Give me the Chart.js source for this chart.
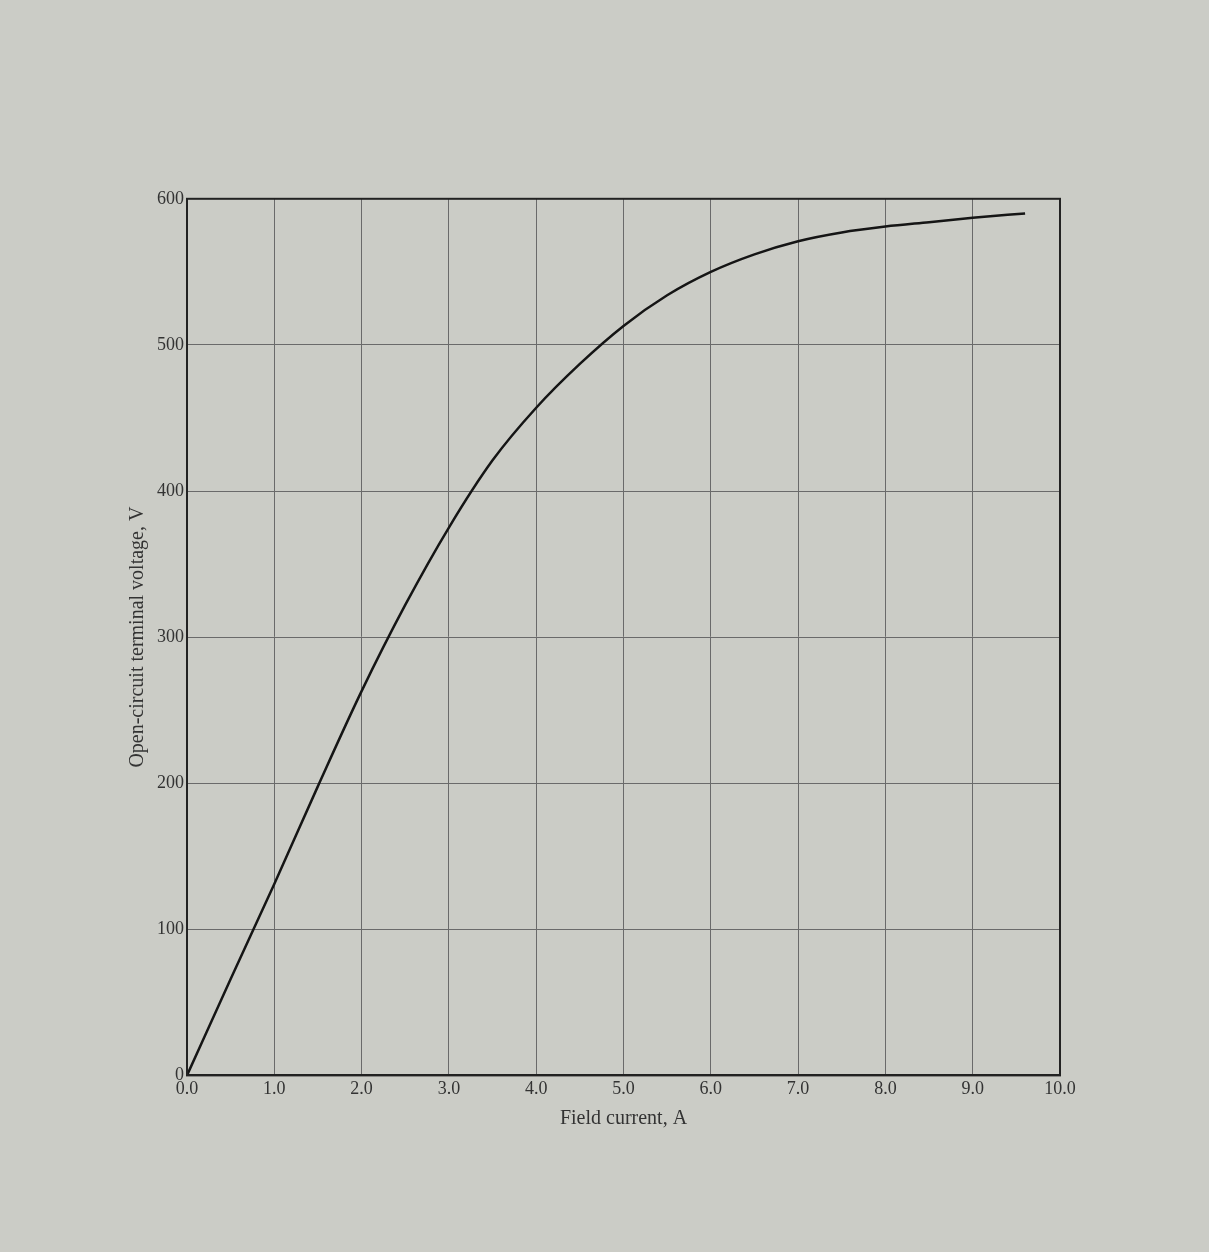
<!DOCTYPE html>
<html><head><meta charset="utf-8">
<script src="https://cdn.jsdelivr.net/npm/chart.js@4"></script>
<style>
html,body{margin:0;padding:0;background:#cbccc6;}
#wrap{position:absolute;left:122px;top:185px;width:958px;height:950px;}
</style></head><body>
<div id="wrap"><canvas id="c"></canvas></div>
<script>
const fieldCurrent = [0,0.5,1.0,1.5,2.0,2.5,3.0,3.5,4.0,4.5,5.0,5.5,6.0,6.5,7.0,7.5,8.0,8.5,9.0,9.6];
const voltage = [0,66,131,198,263,322,375,421,457,487,513,534,550,562,571,577,581,584,587,590];
const xTicks = [0,1,2,3,4,5,6,7,8,9,10];
const yTicks = [0,100,200,300,400,500,600];

new Chart(document.getElementById('c'), {
  type: 'line',
  data: { datasets: [{
    data: fieldCurrent.map((x,i)=>({x, y: voltage[i]})),
    borderColor: '#151515', borderWidth: 2.5, pointRadius: 0,
    cubicInterpolationMode: 'monotone', fill: false
  }]},
  options: {
    responsive: true, maintainAspectRatio: false, animation: false,
    layout: {padding: {top: 10, right: 20}},
    plugins: {legend: {display: false}, tooltip: {enabled: false}},
    scales: {
      x: { type: 'linear', min: 0, max: 10,
        afterBuildTicks: a => { a.ticks = xTicks.map(v=>({value:v})); },
        ticks: { callback: v => v.toFixed(1), color: '#333', font: {family: 'Liberation Serif', size: 18}, maxRotation: 0 },
        grid: { color: '#6a6a6a', lineWidth: 1, drawTicks: false },
        border: { color: '#222', width: 2 },
        title: { display: true, text: 'Field current, A', color: '#333', font: {family: 'Liberation Serif', size: 20} }
      },
      y: { min: 0, max: 600,
        afterBuildTicks: a => { a.ticks = yTicks.map(v=>({value:v})); },
        ticks: { color: '#333', font: {family: 'Liberation Serif', size: 18} },
        grid: { color: '#6a6a6a', lineWidth: 1, drawTicks: false },
        border: { color: '#222', width: 2 },
        title: { display: true, text: 'Open-circuit terminal voltage, V', color: '#333', font: {family: 'Liberation Serif', size: 20} }
      }
    }
  },
  plugins: [{ id: 'frame', afterDraw(ch){ const {ctx, chartArea:a} = ch; ctx.save(); ctx.strokeStyle='#222'; ctx.lineWidth=2; ctx.strokeRect(a.left,a.top,a.right-a.left,a.bottom-a.top); ctx.restore(); } }]
});
</script>
</body></html>
